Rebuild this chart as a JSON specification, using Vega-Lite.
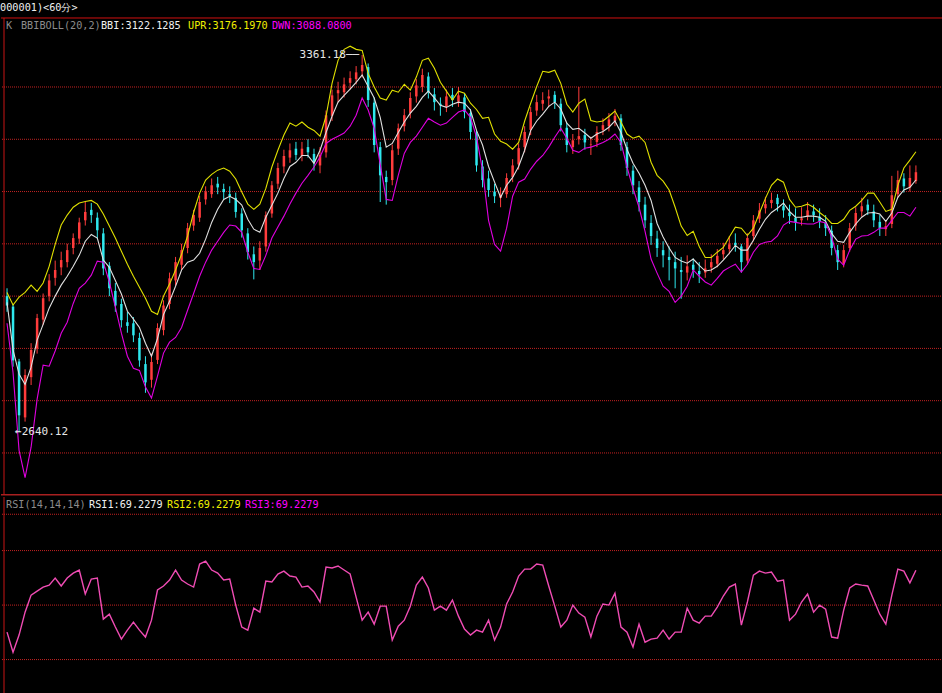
{
  "$schema": "https://vega.github.io/schema/vega-lite/v6.json",
  "background": "#000000",
  "padding": 0,
  "spacing": 0,
  "config": {"view": {"stroke": null}, "font": "DejaVu Sans Mono", "concat": {"spacing": 0}, "scale": {"continuousPadding": 0}},
  "datasets": {
    "k": [
      {"i":0,"o":2900,"h":2915,"l":2870,"c":2882,"u":2907,"m":2888,"d":2848,"r":35.1},
      {"i":1,"o":2880,"h":2885,"l":2765,"c":2777,"u":2883,"m":2797,"d":2754,"r":24.1},
      {"i":2,"o":2775,"h":2780,"l":2640.12,"c":2672,"u":2898,"m":2751,"d":2605,"r":33.5},
      {"i":3,"o":2668,"h":2760,"l":2660,"c":2749,"u":2907,"m":2731,"d":2553,"r":46.1},
      {"i":4,"o":2745,"h":2810,"l":2730,"c":2797,"u":2921,"m":2764,"d":2611,"r":55.5},
      {"i":5,"o":2800,"h":2866,"l":2790,"c":2858,"u":2909,"m":2816,"d":2703,"r":57.7},
      {"i":6,"o":2855,"h":2905,"l":2845,"c":2896,"u":2925,"m":2846,"d":2768,"r":59.9},
      {"i":7,"o":2900,"h":2942,"l":2890,"c":2930,"u":2957,"m":2877,"d":2766,"r":61.0},
      {"i":8,"o":2935,"h":2968,"l":2920,"c":2950,"u":2999,"m":2900,"d":2795,"r":64.9},
      {"i":9,"o":2955,"h":2985,"l":2940,"c":2969,"u":3036,"m":2921,"d":2829,"r":60.5},
      {"i":10,"o":2965,"h":3000,"l":2955,"c":2988,"u":3055,"m":2938,"d":2850,"r":64.9},
      {"i":11,"o":2992,"h":3020,"l":2980,"c":3011,"u":3070,"m":2957,"d":2886,"r":67.6},
      {"i":12,"o":3010,"h":3050,"l":3000,"c":3041,"u":3078,"m":2978,"d":2915,"r":69.3},
      {"i":13,"o":3045,"h":3080,"l":3035,"c":3061,"u":3081,"m":3005,"d":2925,"r":56.1},
      {"i":14,"o":3065,"h":3078,"l":3040,"c":3055,"u":3083,"m":3018,"d":2940,"r":64.3},
      {"i":15,"o":3050,"h":3060,"l":3010,"c":3026,"u":3076,"m":3011,"d":2967,"r":64.9},
      {"i":16,"o":3020,"h":3030,"l":2940,"c":2953,"u":3057,"m":2969,"d":2965,"r":42.3},
      {"i":17,"o":2958,"h":2965,"l":2900,"c":2915,"u":3034,"m":2955,"d":2927,"r":45.0},
      {"i":18,"o":2910,"h":2925,"l":2870,"c":2882,"u":3011,"m":2930,"d":2879,"r":37.9},
      {"i":19,"o":2885,"h":2895,"l":2840,"c":2854,"u":2986,"m":2904,"d":2829,"r":31.3},
      {"i":20,"o":2850,"h":2870,"l":2830,"c":2843,"u":2961,"m":2871,"d":2785,"r":36.2},
      {"i":21,"o":2848,"h":2860,"l":2812,"c":2825,"u":2938,"m":2856,"d":2762,"r":40.6},
      {"i":22,"o":2820,"h":2830,"l":2765,"c":2777,"u":2917,"m":2840,"d":2758,"r":36.2},
      {"i":23,"o":2770,"h":2785,"l":2715,"c":2735,"u":2896,"m":2810,"d":2726,"r":32.4},
      {"i":24,"o":2740,"h":2790,"l":2725,"c":2774,"u":2871,"m":2785,"d":2705,"r":41.7},
      {"i":25,"o":2778,"h":2848,"l":2770,"c":2839,"u":2865,"m":2819,"d":2747,"r":58.3},
      {"i":26,"o":2835,"h":2892,"l":2825,"c":2882,"u":2900,"m":2865,"d":2791,"r":60.5},
      {"i":27,"o":2885,"h":2945,"l":2875,"c":2934,"u":2923,"m":2890,"d":2812,"r":63.8},
      {"i":28,"o":2930,"h":2975,"l":2920,"c":2965,"u":2950,"m":2919,"d":2821,"r":69.3},
      {"i":29,"o":2960,"h":3000,"l":2950,"c":2988,"u":2980,"m":2950,"d":2840,"r":63.8},
      {"i":30,"o":2992,"h":3040,"l":2982,"c":3030,"u":3015,"m":2965,"d":2873,"r":61.6},
      {"i":31,"o":3035,"h":3065,"l":3025,"c":3055,"u":3060,"m":2969,"d":2905,"r":59.9},
      {"i":32,"o":3050,"h":3092,"l":3042,"c":3080,"u":3097,"m":2982,"d":2938,"r":72.6},
      {"i":33,"o":3085,"h":3110,"l":3075,"c":3099,"u":3122,"m":3009,"d":2965,"r":74.2},
      {"i":34,"o":3095,"h":3125,"l":3088,"c":3112,"u":3133,"m":3041,"d":2988,"r":69.3},
      {"i":35,"o":3115,"h":3128,"l":3095,"c":3108,"u":3141,"m":3066,"d":3005,"r":67.6},
      {"i":36,"o":3105,"h":3115,"l":3085,"c":3099,"u":3145,"m":3085,"d":3022,"r":63.8},
      {"i":37,"o":3095,"h":3110,"l":3078,"c":3091,"u":3139,"m":3091,"d":3036,"r":64.3},
      {"i":38,"o":3088,"h":3098,"l":3050,"c":3061,"u":3124,"m":3085,"d":3034,"r":50.0},
      {"i":39,"o":3058,"h":3068,"l":3012,"c":3026,"u":3099,"m":3074,"d":3022,"r":37.9},
      {"i":40,"o":3020,"h":3030,"l":2970,"c":2984,"u":3076,"m":3047,"d":2984,"r":36.2},
      {"i":41,"o":2980,"h":2995,"l":2932,"c":2965,"u":3066,"m":3028,"d":2953,"r":48.3},
      {"i":42,"o":2968,"h":3005,"l":2950,"c":2992,"u":3076,"m":3022,"d":2951,"r":46.1},
      {"i":43,"o":2995,"h":3062,"l":2985,"c":3055,"u":3106,"m":3051,"d":2978,"r":63.2},
      {"i":44,"o":3058,"h":3120,"l":3050,"c":3112,"u":3147,"m":3074,"d":3011,"r":62.7},
      {"i":45,"o":3115,"h":3155,"l":3105,"c":3145,"u":3179,"m":3097,"d":3032,"r":67.1},
      {"i":46,"o":3148,"h":3180,"l":3135,"c":3168,"u":3208,"m":3125,"d":3053,"r":68.7},
      {"i":47,"o":3165,"h":3192,"l":3155,"c":3179,"u":3231,"m":3148,"d":3076,"r":66.0},
      {"i":48,"o":3182,"h":3195,"l":3160,"c":3170,"u":3225,"m":3156,"d":3097,"r":65.4},
      {"i":49,"o":3168,"h":3195,"l":3158,"c":3182,"u":3233,"m":3169,"d":3116,"r":59.9},
      {"i":50,"o":3185,"h":3200,"l":3165,"c":3175,"u":3223,"m":3169,"d":3131,"r":60.5},
      {"i":51,"o":3172,"h":3182,"l":3140,"c":3156,"u":3217,"m":3154,"d":3147,"r":57.2},
      {"i":52,"o":3150,"h":3185,"l":3135,"c":3170,"u":3206,"m":3179,"d":3166,"r":51.7},
      {"i":53,"o":3175,"h":3255,"l":3165,"c":3246,"u":3244,"m":3213,"d":3192,"r":70.9},
      {"i":54,"o":3245,"h":3295,"l":3235,"c":3284,"u":3307,"m":3244,"d":3200,"r":70.4},
      {"i":55,"o":3288,"h":3310,"l":3270,"c":3294,"u":3351,"m":3271,"d":3206,"r":71.5},
      {"i":56,"o":3290,"h":3318,"l":3280,"c":3305,"u":3372,"m":3284,"d":3212,"r":69.3},
      {"i":57,"o":3308,"h":3330,"l":3295,"c":3317,"u":3378,"m":3296,"d":3225,"r":67.1},
      {"i":58,"o":3315,"h":3340,"l":3305,"c":3328,"u":3372,"m":3309,"d":3246,"r":54.4},
      {"i":59,"o":3330,"h":3361.18,"l":3318,"c":3342,"u":3370,"m":3323,"d":3279,"r":41.7},
      {"i":60,"o":3338,"h":3345,"l":3262,"c":3275,"u":3326,"m":3301,"d":3256,"r":46.1},
      {"i":61,"o":3270,"h":3280,"l":3175,"c":3189,"u":3300,"m":3279,"d":3221,"r":39.5},
      {"i":62,"o":3185,"h":3195,"l":3080,"c":3131,"u":3279,"m":3242,"d":3152,"r":49.4},
      {"i":63,"o":3128,"h":3140,"l":3075,"c":3118,"u":3275,"m":3185,"d":3085,"r":49.4},
      {"i":64,"o":3122,"h":3190,"l":3112,"c":3179,"u":3294,"m":3192,"d":3083,"r":30.7},
      {"i":65,"o":3182,"h":3230,"l":3170,"c":3221,"u":3290,"m":3213,"d":3131,"r":38.4},
      {"i":66,"o":3225,"h":3258,"l":3215,"c":3246,"u":3305,"m":3233,"d":3173,"r":41.7},
      {"i":67,"o":3250,"h":3290,"l":3240,"c":3279,"u":3294,"m":3250,"d":3194,"r":49.4},
      {"i":68,"o":3282,"h":3315,"l":3270,"c":3303,"u":3319,"m":3263,"d":3206,"r":61.0},
      {"i":69,"o":3300,"h":3335,"l":3290,"c":3323,"u":3351,"m":3280,"d":3223,"r":65.4},
      {"i":70,"o":3320,"h":3328,"l":3278,"c":3290,"u":3355,"m":3292,"d":3240,"r":59.4},
      {"i":71,"o":3286,"h":3298,"l":3255,"c":3271,"u":3336,"m":3279,"d":3233,"r":47.2},
      {"i":72,"o":3268,"h":3280,"l":3245,"c":3265,"u":3309,"m":3265,"d":3227,"r":49.4},
      {"i":73,"o":3262,"h":3295,"l":3252,"c":3282,"u":3292,"m":3261,"d":3231,"r":47.2},
      {"i":74,"o":3285,"h":3298,"l":3262,"c":3275,"u":3275,"m":3267,"d":3242,"r":52.8},
      {"i":75,"o":3272,"h":3300,"l":3262,"c":3284,"u":3292,"m":3271,"d":3252,"r":43.9},
      {"i":76,"o":3280,"h":3288,"l":3240,"c":3252,"u":3288,"m":3269,"d":3256,"r":36.8},
      {"i":77,"o":3250,"h":3258,"l":3200,"c":3214,"u":3269,"m":3256,"d":3242,"r":33.5},
      {"i":78,"o":3210,"h":3218,"l":3138,"c":3150,"u":3257,"m":3217,"d":3204,"r":36.2},
      {"i":79,"o":3148,"h":3160,"l":3108,"c":3122,"u":3240,"m":3189,"d":3141,"r":35.1},
      {"i":80,"o":3125,"h":3140,"l":3090,"c":3103,"u":3242,"m":3148,"d":3045,"r":41.7},
      {"i":81,"o":3100,"h":3115,"l":3078,"c":3091,"u":3210,"m":3118,"d":2999,"r":30.7},
      {"i":82,"o":3088,"h":3108,"l":3070,"c":3093,"u":3196,"m":3089,"d":2986,"r":37.9},
      {"i":83,"o":3095,"h":3135,"l":3088,"c":3126,"u":3191,"m":3112,"d":3030,"r":50.6},
      {"i":84,"o":3128,"h":3162,"l":3118,"c":3150,"u":3181,"m":3127,"d":3091,"r":57.2},
      {"i":85,"o":3152,"h":3192,"l":3142,"c":3183,"u":3194,"m":3148,"d":3118,"r":66.0},
      {"i":86,"o":3185,"h":3225,"l":3175,"c":3214,"u":3235,"m":3179,"d":3124,"r":69.8},
      {"i":87,"o":3218,"h":3262,"l":3208,"c":3252,"u":3269,"m":3217,"d":3143,"r":69.8},
      {"i":88,"o":3255,"h":3285,"l":3245,"c":3271,"u":3301,"m":3235,"d":3158,"r":72.6},
      {"i":89,"o":3268,"h":3290,"l":3255,"c":3275,"u":3330,"m":3248,"d":3169,"r":72.0},
      {"i":90,"o":3278,"h":3295,"l":3262,"c":3282,"u":3328,"m":3263,"d":3185,"r":60.5},
      {"i":91,"o":3285,"h":3292,"l":3258,"c":3271,"u":3332,"m":3271,"d":3204,"r":49.4},
      {"i":92,"o":3268,"h":3278,"l":3215,"c":3227,"u":3307,"m":3258,"d":3221,"r":37.9},
      {"i":93,"o":3222,"h":3232,"l":3175,"c":3189,"u":3267,"m":3231,"d":3202,"r":41.7},
      {"i":94,"o":3185,"h":3210,"l":3172,"c":3198,"u":3252,"m":3219,"d":3179,"r":50.0},
      {"i":95,"o":3200,"h":3300,"l":3190,"c":3206,"u":3269,"m":3221,"d":3175,"r":45.6},
      {"i":96,"o":3208,"h":3220,"l":3180,"c":3194,"u":3277,"m":3212,"d":3183,"r":43.4},
      {"i":97,"o":3190,"h":3205,"l":3170,"c":3191,"u":3236,"m":3202,"d":3185,"r":32.4},
      {"i":98,"o":3195,"h":3225,"l":3185,"c":3214,"u":3233,"m":3210,"d":3189,"r":43.9},
      {"i":99,"o":3218,"h":3240,"l":3208,"c":3227,"u":3235,"m":3215,"d":3194,"r":50.6},
      {"i":100,"o":3225,"h":3250,"l":3215,"c":3238,"u":3244,"m":3223,"d":3200,"r":50.0},
      {"i":101,"o":3235,"h":3258,"l":3225,"c":3245,"u":3254,"m":3235,"d":3210,"r":56.6},
      {"i":102,"o":3240,"h":3248,"l":3178,"c":3189,"u":3233,"m":3213,"d":3194,"r":37.9},
      {"i":103,"o":3185,"h":3195,"l":3130,"c":3145,"u":3210,"m":3181,"d":3147,"r":35.1},
      {"i":104,"o":3140,"h":3150,"l":3095,"c":3112,"u":3202,"m":3154,"d":3106,"r":26.9},
      {"i":105,"o":3108,"h":3120,"l":3062,"c":3080,"u":3206,"m":3135,"d":3070,"r":39.5},
      {"i":106,"o":3075,"h":3090,"l":3030,"c":3045,"u":3194,"m":3112,"d":3024,"r":29.6},
      {"i":107,"o":3040,"h":3055,"l":2998,"c":3015,"u":3156,"m":3083,"d":2971,"r":31.3},
      {"i":108,"o":3010,"h":3025,"l":2975,"c":2992,"u":3131,"m":3039,"d":2944,"r":31.8},
      {"i":109,"o":2988,"h":3005,"l":2955,"c":2978,"u":3120,"m":3013,"d":2919,"r":36.2},
      {"i":110,"o":2975,"h":2995,"l":2930,"c":2969,"u":3103,"m":2992,"d":2909,"r":31.3},
      {"i":111,"o":2965,"h":2985,"l":2915,"c":2953,"u":3070,"m":2974,"d":2888,"r":35.1},
      {"i":112,"o":2950,"h":2975,"l":2895,"c":2946,"u":3034,"m":2967,"d":2900,"r":35.1},
      {"i":113,"o":2945,"h":2978,"l":2930,"c":2957,"u":3016,"m":2963,"d":2919,"r":48.3},
      {"i":114,"o":2960,"h":2972,"l":2935,"c":2950,"u":3024,"m":2971,"d":2950,"r":41.7},
      {"i":115,"o":2948,"h":2965,"l":2925,"c":2942,"u":2995,"m":2959,"d":2938,"r":40.1},
      {"i":116,"o":2945,"h":2970,"l":2935,"c":2953,"u":2974,"m":2948,"d":2927,"r":43.9},
      {"i":117,"o":2955,"h":2980,"l":2945,"c":2965,"u":2974,"m":2950,"d":2921,"r":43.9},
      {"i":118,"o":2962,"h":2990,"l":2955,"c":2977,"u":2984,"m":2957,"d":2934,"r":48.9},
      {"i":119,"o":2980,"h":3002,"l":2970,"c":2988,"u":2993,"m":2969,"d":2948,"r":55.0},
      {"i":120,"o":2990,"h":3015,"l":2980,"c":2999,"u":3013,"m":2982,"d":2955,"r":59.9},
      {"i":121,"o":3002,"h":3020,"l":2985,"c":2997,"u":3032,"m":2997,"d":2961,"r":61.6},
      {"i":122,"o":2995,"h":3000,"l":2945,"c":2965,"u":3030,"m":2988,"d":2946,"r":39.0},
      {"i":123,"o":2968,"h":3020,"l":2960,"c":3011,"u":3016,"m":2988,"d":2961,"r":51.7},
      {"i":124,"o":3015,"h":3055,"l":3005,"c":3045,"u":3030,"m":3007,"d":2984,"r":66.5},
      {"i":125,"o":3048,"h":3078,"l":3040,"c":3064,"u":3059,"m":3028,"d":2999,"r":68.7},
      {"i":126,"o":3068,"h":3090,"l":3058,"c":3076,"u":3087,"m":3047,"d":3003,"r":67.6},
      {"i":127,"o":3078,"h":3098,"l":3068,"c":3084,"u":3112,"m":3060,"d":3005,"r":68.2},
      {"i":128,"o":3088,"h":3095,"l":3062,"c":3076,"u":3124,"m":3068,"d":3015,"r":63.2},
      {"i":129,"o":3072,"h":3085,"l":3050,"c":3064,"u":3118,"m":3078,"d":3036,"r":63.8},
      {"i":130,"o":3060,"h":3075,"l":3038,"c":3053,"u":3085,"m":3062,"d":3043,"r":41.7},
      {"i":131,"o":3050,"h":3068,"l":3025,"c":3041,"u":3070,"m":3051,"d":3041,"r":45.0},
      {"i":132,"o":3045,"h":3070,"l":3035,"c":3049,"u":3072,"m":3051,"d":3039,"r":51.7},
      {"i":133,"o":3052,"h":3080,"l":3045,"c":3064,"u":3076,"m":3053,"d":3038,"r":56.1},
      {"i":134,"o":3062,"h":3075,"l":3042,"c":3055,"u":3070,"m":3053,"d":3038,"r":46.1},
      {"i":135,"o":3052,"h":3068,"l":3030,"c":3043,"u":3060,"m":3051,"d":3043,"r":50.0},
      {"i":136,"o":3040,"h":3055,"l":3015,"c":3030,"u":3051,"m":3043,"d":3040,"r":47.8},
      {"i":137,"o":3025,"h":3035,"l":2978,"c":2992,"u":3039,"m":3020,"d":3013,"r":32.4},
      {"i":138,"o":2988,"h":2998,"l":2950,"c":2965,"u":3039,"m":3005,"d":2971,"r":31.8},
      {"i":139,"o":2962,"h":2998,"l":2955,"c":2988,"u":3047,"m":3003,"d":2959,"r":47.2},
      {"i":140,"o":2992,"h":3040,"l":2985,"c":3030,"u":3064,"m":3022,"d":2988,"r":59.4},
      {"i":141,"o":3035,"h":3070,"l":3025,"c":3059,"u":3072,"m":3038,"d":3009,"r":61.6},
      {"i":142,"o":3062,"h":3088,"l":3052,"c":3072,"u":3083,"m":3051,"d":3015,"r":61.0},
      {"i":143,"o":3075,"h":3085,"l":3055,"c":3064,"u":3097,"m":3059,"d":3016,"r":60.5},
      {"i":144,"o":3062,"h":3075,"l":3032,"c":3045,"u":3097,"m":3060,"d":3022,"r":52.8},
      {"i":145,"o":3042,"h":3055,"l":3015,"c":3030,"u":3080,"m":3057,"d":3030,"r":45.0},
      {"i":146,"o":3028,"h":3045,"l":3015,"c":3034,"u":3062,"m":3043,"d":3030,"r":39.5},
      {"i":147,"o":3038,"h":3130,"l":3030,"c":3093,"u":3066,"m":3059,"d":3045,"r":55.5},
      {"i":148,"o":3095,"h":3140,"l":3088,"c":3122,"u":3112,"m":3089,"d":3060,"r":69.8},
      {"i":149,"o":3125,"h":3135,"l":3098,"c":3110,"u":3145,"m":3103,"d":3060,"r":68.7},
      {"i":150,"o":3108,"h":3150,"l":3100,"c":3126,"u":3160,"m":3108,"d":3053,"r":62.2},
      {"i":151,"o":3120,"h":3150,"l":3115,"c":3137,"u":3176.2,"m":3122.1,"d":3070,"r":69.2}
    ],
    "grid": [{"p":2600},{"p":2700},{"p":2800},{"p":2900},{"p":3000},{"p":3100},{"p":3200},{"p":3300}],
    "rgrid": [{"v":20},{"v":50},{"v":80},{"v":100}],
    "hdr": [
      {"i":-1.15,"p":3451,"t":"000001)<60分>","s":"w"},
      {"i":-0.17,"p":3416.7,"t":"K","s":"g"},
      {"i":2.32,"p":3416.7,"t":"BBIBOLL(20,2)","s":"g"},
      {"i":15.61,"p":3416.7,"t":"BBI:3122.1285","s":"w"},
      {"i":30.07,"p":3416.7,"t":"UPR:3176.1970","s":"y"},
      {"i":44.02,"p":3416.7,"t":"DWN:3088.0800","s":"m"}
    ],
    "ext": [
      {"i":59,"p":3361.18,"t":"3361.18──","s":"hi"},
      {"i":2,"p":2640.12,"t":"←2640.12","s":"lo"}
    ],
    "rhdr": [
      {"i":-0.17,"v":105,"t":"RSI(14,14,14)","s":"g"},
      {"i":13.62,"v":105,"t":"RSI1:69.2279","s":"w"},
      {"i":26.58,"v":105,"t":"RSI2:69.2279","s":"y"},
      {"i":39.54,"v":105,"t":"RSI3:69.2279","s":"m"}
    ]
  },
  "vconcat": [
    {
      "width": 942,
      "height": 495,
      "data": {"name": "k"},
      "layer": [
        {
          "data": {"name": "grid"},
          "mark": {"type": "rule", "color": "#c42222", "strokeWidth": 1, "strokeDash": [1, 1]},
          "encoding": {
            "y": {"field": "p", "type": "quantitative", "scale": {"domain": [2519.6, 3466.4], "nice": false, "zero": false}, "axis": null}
          }
        },
        {
          "mark": {"type": "rule", "strokeWidth": 1},
          "encoding": {
            "x": {"field": "i", "type": "quantitative", "scale": {"domain": [-1, 155.5], "nice": false, "zero": false, "padding": 0}, "axis": null},
            "y": {"field": "l", "type": "quantitative", "axis": null},
            "y2": {"field": "h"},
            "color": {"condition": {"test": "datum.c >= datum.o", "value": "#ff3c3c"}, "value": "#2ee8ee"}
          }
        },
        {
          "mark": {"type": "bar", "size": 2.5},
          "encoding": {
            "x": {"field": "i", "type": "quantitative", "axis": null},
            "y": {"field": "o", "type": "quantitative", "axis": null},
            "y2": {"field": "c"},
            "color": {"condition": {"test": "datum.c >= datum.o", "value": "#ff3c3c"}, "value": "#2ee8ee"}
          }
        },
        {
          "mark": {"type": "line", "color": "#e0e0e0", "strokeWidth": 1.1},
          "encoding": {
            "x": {"field": "i", "type": "quantitative", "axis": null},
            "y": {"field": "m", "type": "quantitative", "axis": null}
          }
        },
        {
          "mark": {"type": "line", "color": "#e0e000", "strokeWidth": 1.1},
          "encoding": {
            "x": {"field": "i", "type": "quantitative", "axis": null},
            "y": {"field": "u", "type": "quantitative", "axis": null}
          }
        },
        {
          "mark": {"type": "line", "color": "#e000e0", "strokeWidth": 1.1},
          "encoding": {
            "x": {"field": "i", "type": "quantitative", "axis": null},
            "y": {"field": "d", "type": "quantitative", "axis": null}
          }
        },
        {
          "data": {"name": "hdr"},
          "mark": {"type": "text", "align": "left", "baseline": "middle", "fontSize": 10.2, "font": "DejaVu Sans Mono"},
          "encoding": {
            "x": {"field": "i", "type": "quantitative", "axis": null},
            "y": {"field": "p", "type": "quantitative", "axis": null},
            "text": {"field": "t"},
            "color": {"field": "s", "type": "nominal", "scale": {"domain": ["g", "w", "y", "m"], "range": ["#8c8c8c", "#f0f0f0", "#f0f000", "#ff00ff"]}, "legend": null}
          }
        },
        {
          "data": {"name": "ext"},
          "transform": [{"filter": "datum.s == 'hi'"}],
          "mark": {"type": "text", "align": "right", "baseline": "middle", "fontSize": 11, "dx": -3, "color": "#e6e6e6", "font": "DejaVu Sans Mono"},
          "encoding": {
            "x": {"field": "i", "type": "quantitative", "axis": null},
            "y": {"field": "p", "type": "quantitative", "axis": null},
            "text": {"field": "t"}
          }
        },
        {
          "data": {"name": "ext"},
          "transform": [{"filter": "datum.s == 'lo'"}],
          "mark": {"type": "text", "align": "left", "baseline": "middle", "fontSize": 11, "dx": -4, "color": "#e6e6e6", "font": "DejaVu Sans Mono"},
          "encoding": {
            "x": {"field": "i", "type": "quantitative", "axis": null},
            "y": {"field": "p", "type": "quantitative", "axis": null},
            "text": {"field": "t"}
          }
        },
        {
          "data": {"values": [{}]},
          "mark": {"type": "rule", "color": "#d01010", "strokeWidth": 1},
          "encoding": {"y": {"datum": 3432, "type": "quantitative", "axis": null}}
        },
        {
          "data": {"values": [{}]},
          "mark": {"type": "rule", "color": "#a82020", "strokeWidth": 1.5},
          "encoding": {"y": {"datum": 2520.3, "type": "quantitative", "axis": null}}
        },
        {
          "data": {"values": [{}]},
          "mark": {"type": "rule", "color": "#c81414", "strokeWidth": 1},
          "encoding": {
            "x": {"datum": -0.5, "type": "quantitative", "axis": null},
            "y": {"datum": 3432, "type": "quantitative", "axis": null},
            "y2": {"datum": 2519.6}
          }
        }
      ]
    },
    {
      "width": 942,
      "height": 198,
      "data": {"name": "k"},
      "layer": [
        {
          "data": {"name": "rgrid"},
          "mark": {"type": "rule", "color": "#c42222", "strokeWidth": 1, "strokeDash": [1, 1]},
          "encoding": {
            "y": {"field": "v", "type": "quantitative", "scale": {"domain": [0.5, 109.5], "nice": false, "zero": false}, "axis": null}
          }
        },
        {
          "mark": {"type": "line", "color": "#f04cb4", "strokeWidth": 1.4},
          "encoding": {
            "x": {"field": "i", "type": "quantitative", "scale": {"domain": [-1, 155.5], "nice": false, "zero": false, "padding": 0}, "axis": null},
            "y": {"field": "r", "type": "quantitative", "axis": null}
          }
        },
        {
          "data": {"name": "rhdr"},
          "mark": {"type": "text", "align": "left", "baseline": "middle", "fontSize": 10.2, "font": "DejaVu Sans Mono"},
          "encoding": {
            "x": {"field": "i", "type": "quantitative", "axis": null},
            "y": {"field": "v", "type": "quantitative", "axis": null},
            "text": {"field": "t"},
            "color": {"field": "s", "type": "nominal", "scale": {"domain": ["g", "w", "y", "m"], "range": ["#8c8c8c", "#f0f0f0", "#f0f000", "#ff00ff"]}, "legend": null}
          }
        },
        {
          "data": {"values": [{}]},
          "mark": {"type": "rule", "color": "#c81414", "strokeWidth": 1},
          "encoding": {"x": {"datum": -0.5, "type": "quantitative", "axis": null}}
        }
      ]
    }
  ]
}
